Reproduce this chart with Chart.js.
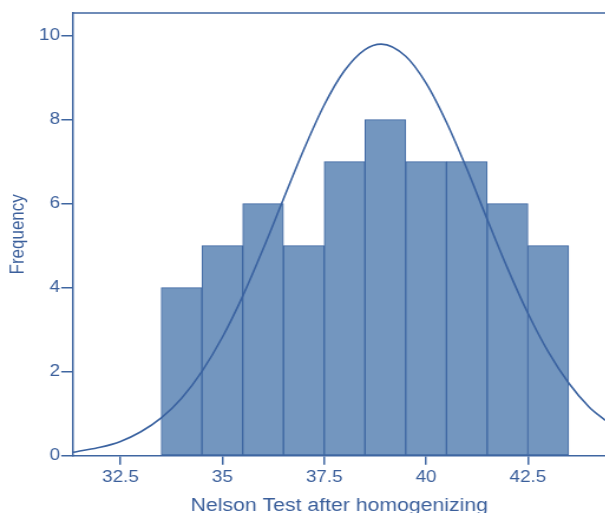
<!DOCTYPE html>
<html>
<head>
<meta charset="utf-8">
<script src="https://cdn.jsdelivr.net/npm/chart.js@4.4.1/dist/chart.umd.min.js"></script>
<style>
  html, body { margin: 0; padding: 0; background: #ffffff; overflow: hidden; }
  #wrap { position: absolute; left: 0; top: 0; width: 513px; height: 513px; transform: scaleX(1.18); transform-origin: 0 0; }
</style>
</head>
<body>
<div id="wrap"><canvas id="c" width="513" height="513"></canvas></div>
<script>
// Histogram bins (bin centres) and frequencies
const binCenters = [34, 35, 36, 37, 38, 39, 40, 41, 42, 43];
const frequencies = [4, 5, 6, 5, 7, 8, 7, 7, 6, 5];

// Fitted normal curve
const curveX = [31.34, 31.5, 32, 32.5, 33, 33.5, 34, 34.5, 35, 35.5, 36, 36.5, 37, 37.5, 38, 38.5, 38.9, 39.5, 40, 40.5, 41, 41.5, 42, 42.5, 43, 43.5, 44, 44.4];
const curveY = [0.08, 0.11, 0.2, 0.34, 0.57, 0.9, 1.37, 2.01, 2.82, 3.8, 4.92, 6.11, 7.29, 8.35, 9.17, 9.67, 9.8, 9.51, 8.87, 7.94, 6.83, 5.63, 4.46, 3.39, 2.47, 1.73, 1.16, 0.84];

// Tick labels
const xTicks = [32.5, 35, 37.5, 40, 42.5];
const yTicks = [0, 2, 4, 6, 8, 10];

const xTitle = 'Nelson Test after homogenizing';
const yTitle = 'Frequency';

const axisColor = '#3f66a1';
const textColor = '#3b5f9b';
const barFill = '#7396bf';
const barEdge = '#3f68a3';
const curveColor = '#3a62a0';

const barData = binCenters.map((x, i) => ({ x: x, y: frequencies[i] }));
const lineData = curveX.map((x, i) => ({ x: x, y: curveY[i] }));

const topBorder = {
  id: 'topBorder',
  afterDraw(chart) {
    const { ctx, chartArea } = chart;
    ctx.save();
    ctx.strokeStyle = axisColor;
    ctx.lineWidth = 1.5;
    ctx.beginPath();
    ctx.moveTo(chartArea.left, chartArea.top);
    ctx.lineTo(chartArea.right + 2, chartArea.top);
    ctx.stroke();
    ctx.restore();
  }
};

new Chart(document.getElementById('c'), {
  data: {
    datasets: [
      {
        type: 'line',
        data: lineData,
        borderColor: curveColor,
        borderWidth: 1.6,
        pointRadius: 0,
        fill: false,
        cubicInterpolationMode: 'monotone',
        order: 0
      },
      {
        type: 'bar',
        data: barData,
        backgroundColor: barFill,
        borderColor: barEdge,
        borderWidth: 1,
        borderSkipped: false,
        barPercentage: 1,
        categoryPercentage: 1,
        order: 1
      }
    ]
  },
  options: {
    responsive: false,
    animation: false,
    devicePixelRatio: 1,
    layout: { padding: { left: 0, right: 0, top: 13, bottom: 0 } },
    plugins: { legend: { display: false }, tooltip: { enabled: false } },
    scales: {
      x: {
        type: 'linear',
        position: 'bottom',
        min: 31.336,
        max: 44.4,
        offset: false,
        afterFit(scale) { scale.height = 57.3; },
        afterBuildTicks(scale) { scale.ticks = xTicks.map(v => ({ value: v })); },
        grid: { display: true, offset: false, drawOnChartArea: false, drawTicks: true, tickLength: 9, color: axisColor, lineWidth: 1.5 },
        border: { display: true, color: axisColor, width: 1.5 },
        ticks: {
          color: textColor,
          padding: 3,
          maxRotation: 0,
          autoSkip: false,
          font: { family: '"Liberation Sans", Arial, sans-serif', size: 16 },
          callback: (v) => String(v)
        },
        title: {
          display: true,
          text: xTitle,
          color: textColor,
          padding: 0,
          font: { family: '"Liberation Sans", Arial, sans-serif', size: 18, lineHeight: 0.8 }
        }
      },
      y: {
        type: 'linear',
        position: 'left',
        min: 0,
        max: 10.54,
        afterFit(scale) { scale.width = 61.9; },
        afterBuildTicks(scale) { scale.ticks = yTicks.map(v => ({ value: v })); },
        grid: { display: true, offset: false, drawOnChartArea: false, drawTicks: true, tickLength: 10, color: axisColor, lineWidth: 1.5 },
        border: { display: true, color: axisColor, width: 1.5 },
        ticks: {
          color: textColor,
          padding: 1,
          autoSkip: false,
          font: { family: '"Liberation Sans", Arial, sans-serif', size: 16 },
          callback: (v) => String(v)
        },
        title: {
          display: true,
          text: yTitle,
          color: textColor,
          padding: 6.8,
          font: { family: '"Liberation Sans", Arial, sans-serif', size: 17, lineHeight: 1 }
        }
      }
    }
  },
  plugins: [topBorder]
});
</script>
</body>
</html>
